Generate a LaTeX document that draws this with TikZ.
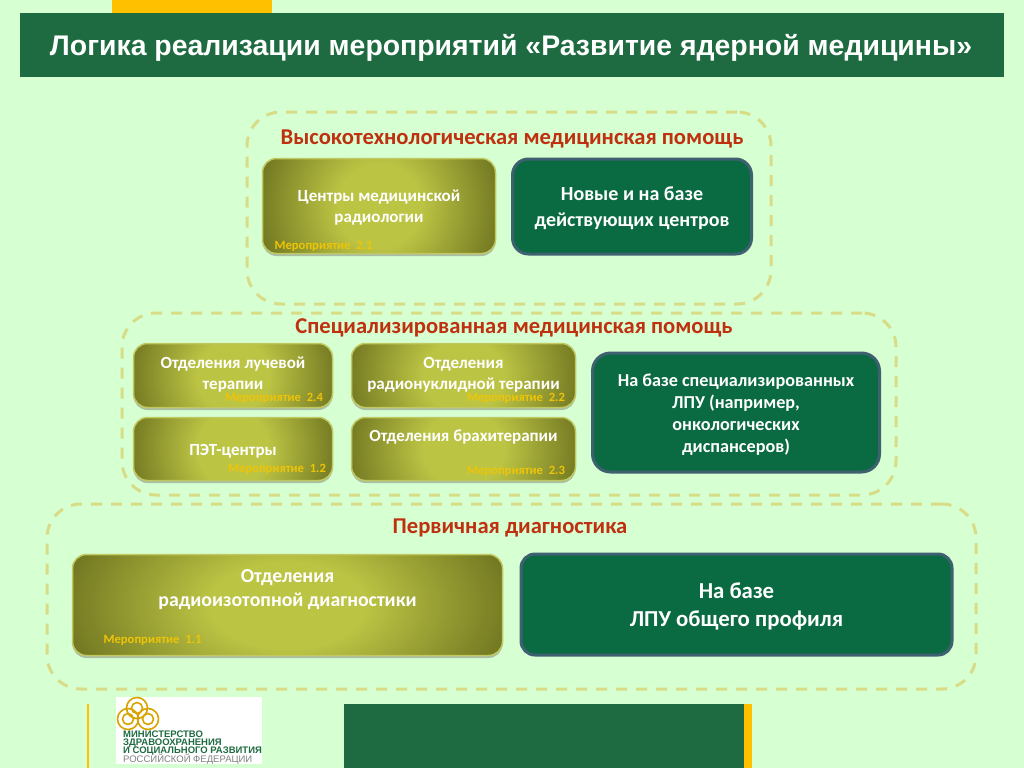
\documentclass[tikz,border=0pt]{standalone}
\usepackage{fontspec}
\setmainfont{Carlito}
\newfontfamily\headfont{Liberation Sans}
\usetikzlibrary{calc,shadows}

\definecolor{pagebg}{HTML}{D6FFD2}
\definecolor{headgreen}{HTML}{1E6B41}
\definecolor{barorange}{HTML}{FFC000}
\definecolor{framedash}{HTML}{D8DC86}
\definecolor{redhead}{HTML}{BF3010}
\definecolor{olivelight}{HTML}{BCC444}
\definecolor{olivedark}{HTML}{5E6318}
\definecolor{oliveedge}{HTML}{C0C860}
\definecolor{boxgreen}{HTML}{0A6A42}
\definecolor{boxedge}{HTML}{3E6070}
\definecolor{tagyellow}{HTML}{EEC408}

\pgfdeclareradialshading{oliveglow}{\pgfpointorigin}{
  color(0bp)=(olivelight); color(9bp)=(olivelight); color(31bp)=(olivedark); color(90bp)=(olivedark)}

\tikzset{
  frame/.style={draw=framedash, line width=3pt, dash pattern=on 11pt off 9pt, rounded corners=34pt},
  olivebox/.style={draw=oliveedge, line width=1.5pt, rounded corners=14pt,
    drop shadow={shadow xshift=0pt, shadow yshift=-2.5pt, opacity=0.5},
    path picture={\shade[shading=oliveglow]
      ($(path picture bounding box.south west)+(0,70)$) rectangle
      ($(path picture bounding box.north east)+(0,-70)$);}},
  greenbox/.style={draw=boxedge, fill=boxgreen, line width=3pt, rounded corners=16pt},
  boxtext/.style={text=white, align=center, font=\fontsize{17}{21}\selectfont\bfseries},
  tagtext/.style={text=tagyellow, font=\fontsize{12.6}{14}\selectfont\bfseries},
  tierhead/.style={text=redhead, font=\fontsize{22.6}{26}\selectfont\bfseries},
  logotext/.style={anchor=west, inner sep=0pt, text=headgreen, font=\headfont\fontsize{9.5}{10}\selectfont\bfseries},
  logoring/.style={draw=barorange!85!black, line width=1.6pt}
}

\begin{document}
\begin{tikzpicture}[x=1pt,y=-1pt]

  \useasboundingbox (0,0) rectangle (1024,768);
  \fill[pagebg] (0,0) rectangle (1024,768);

  % Header bars
  \fill[barorange] (112,0) rectangle (272,13);
  \fill[headgreen] (20,13) rectangle (1004,77);
  \node[text=white, font=\headfont\fontsize{28.4}{32}\selectfont\bfseries] (headtitle) at (511,48)
    {Логика реализации мероприятий «Развитие ядерной медицины»};

  % Dashed tiers
  \node[frame, minimum width=524pt, minimum height=192pt] (tierhigh) at (509,208) {};
  \node[frame, minimum width=774pt, minimum height=182pt] (tierspec) at (509,404) {};
  \node[frame, minimum width=929pt, minimum height=185pt] (tierbase) at (511.5,596.5) {};

  \node[tierhead] (headhigh) at (512,139) {Высокотехнологическая медицинская помощь};
  \node[tierhead] (headspec) at (514,327.5) {Специализированная медицинская помощь};
  \node[tierhead] (headbase) at (510,527.5) {Первичная диагностика};

  % High tech tier
  \node[olivebox, minimum width=233pt, minimum height=95pt] (radiocentre) at (379,206) {};
  \node[boxtext] (radiocentretext) at (379,208) {Центры медицинской\\радиологии};
  \node[tagtext] (tag21) at (323.5,246.5) {Мероприятие~ 2.1};
  \node[greenbox, minimum width=239pt, minimum height=95pt] (newcentre) at (632,206.5) {};
  \node[boxtext, font=\fontsize{20}{26}\selectfont\bfseries] (newcentretext) at (632,208.5)
    {Новые и на базе\\действующих центров};

  % Specialised tier
  \node[olivebox, minimum width=199pt, minimum height=64pt] (beam) at (233,375.5) {};
  \node[boxtext] (beamtext) at (233,375) {Отделения лучевой\\терапии};
  \node[tagtext] (tag24) at (274,398.5) {Мероприятие~ 2.4};

  \node[olivebox, minimum width=224pt, minimum height=64pt] (nuclide) at (463.5,375.5) {};
  \node[boxtext] (nuclidetext) at (463.5,375) {Отделения\\радионуклидной терапии};
  \node[tagtext] (tag22) at (516,398.5) {Мероприятие~ 2.2};

  \node[olivebox, minimum width=199pt, minimum height=63pt] (pet) at (233,449) {};
  \node[boxtext] (pettext) at (233,451) {ПЭТ-центры};
  \node[tagtext] (tag12) at (277,469.5) {Мероприятие~ 1.2};

  \node[olivebox, minimum width=224pt, minimum height=63pt] (brachy) at (463.5,449) {};
  \node[boxtext] (brachytext) at (463.5,437) {Отделения брахитерапии};
  \node[tagtext] (tag23) at (516,471.5) {Мероприятие~ 2.3};

  \node[greenbox, rounded corners=18pt, minimum width=287pt, minimum height=119pt] (lpuspec) at (736,412.5) {};
  \node[boxtext, font=\fontsize{18.2}{22.2}\selectfont\bfseries] (lpuspectext) at (736,414.5)
    {На базе специализированных\\ЛПУ (например,\\онкологических\\диспансеров)};

  % Primary tier
  \node[olivebox, minimum width=430pt, minimum height=101pt] (isotope) at (287.5,605) {};
  \node[boxtext, font=\fontsize{19.8}{24}\selectfont\bfseries] (isotopetext) at (287.5,590)
    {Отделения\\радиоизотопной диагностики};
  \node[tagtext] (tag11) at (152.5,640.5) {Мероприятие~ 1.1};
  \node[greenbox, rounded corners=14pt, minimum width=431pt, minimum height=101pt] (lpubase) at (736.5,604.5) {};
  \node[boxtext, font=\fontsize{22.8}{28}\selectfont\bfseries] (lpubasetext) at (736.5,606.5)
    {На базе\\ЛПУ общего профиля};

  % Footer
  \draw[barorange, line width=1.5pt] (88,704) -- (88,768);
  \fill[headgreen] (344,704) rectangle (744,768);
  \fill[barorange] (744,704) rectangle (752,768);

  % Logo
  \fill[white] (116,697) rectangle (262,764);
  \foreach \cx/\cy in {137/708, 128/719, 148/719} {
    \draw[logoring] (\cx,\cy) circle (10.5);
    \draw[logoring] (\cx,\cy) circle (5.5);
  }
  \node[logotext] (logoa) at (123,734) {МИНИСТЕРСТВО};
  \node[logotext] (logob) at (123,743) {ЗДРАВООХРАНЕНИЯ};
  \node[logotext] (logoc) at (123,751) {И СОЦИАЛЬНОГО РАЗВИТИЯ};
  \node[logotext, text=gray, font=\headfont\fontsize{9.5}{10}\selectfont] (logod) at (123,759) {РОССИЙСКОЙ ФЕДЕРАЦИИ};

\end{tikzpicture}
\end{document}
